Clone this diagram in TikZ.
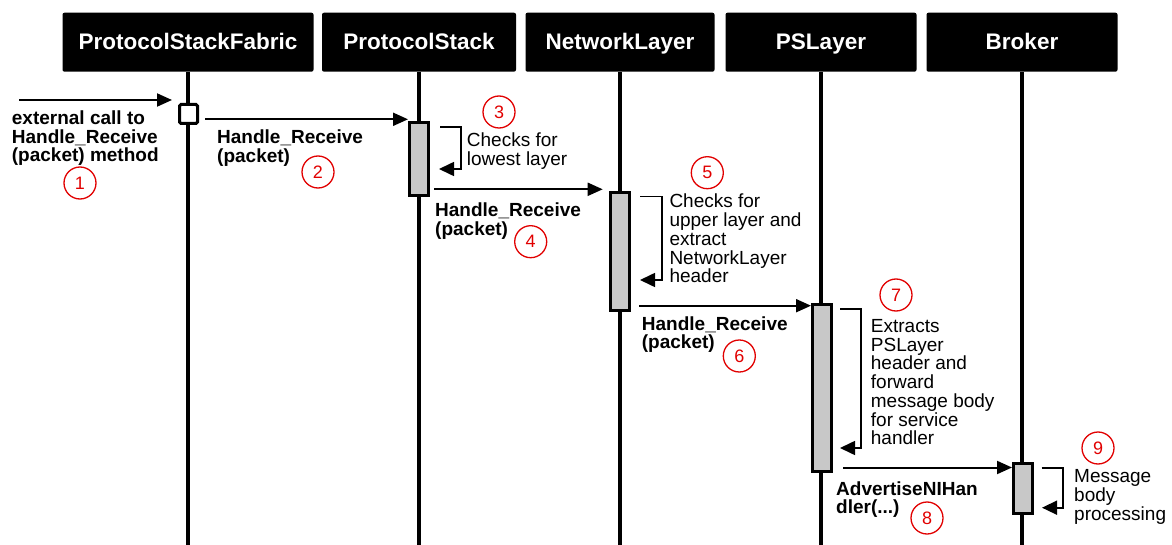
\documentclass[tikz,border=0pt]{standalone}
\usepackage{fontspec}
\setmainfont{Liberation Sans}
\usetikzlibrary{arrows.meta}
\definecolor{barfill}{RGB}{200,200,200}
\definecolor{stepred}{RGB}{225,0,0}

\begin{document}
\begin{tikzpicture}[x=1pt,y=-1pt,
  head/.style={fill=black, rounded corners=2pt, minimum height=59pt, text=white,
    font=\fontsize{22.5}{27}\selectfont\bfseries, inner sep=0pt,
    text height=20pt, text depth=4.8pt},
  life/.style={line width=3.5pt},
  bar/.style={draw=black, fill=barfill, line width=3pt, minimum width=19pt, inner sep=0pt},
  msg/.style={line width=2pt, -{Triangle[length=15pt,width=13pt]}},
  selfcall/.style={line width=1.6pt, -{Triangle[length=15pt,width=14pt]}},
  % multi-line texts are placed by the baseline of their last line
  lbl/.style={anchor=base west, inner sep=0pt, align=left,
    font=\fontsize{19}{18.6}\selectfont\bfseries},
  note/.style={anchor=base west, inner sep=0pt, align=left,
    font=\fontsize{19}{18.7}\selectfont},
  stepno/.style={circle, draw=stepred, text=stepred, line width=1.3pt,
    minimum size=32pt, inner sep=0pt, font=\fontsize{18}{18}\selectfont}
]
\useasboundingbox (0,0) rectangle (1172,545);
\coordinate (bottom) at (0,545);

% lifeline heads
\node[head, minimum width=251pt] (hA) at (188,42.2) {ProtocolStackFabric};
\node[head, minimum width=194pt] (hB) at (419,42.2) {ProtocolStack};
\node[head, minimum width=189pt] (hC) at (620,42.2) {NetworkLayer};
\node[head, minimum width=191pt] (hD) at (821,42.2) {PSLayer};
\node[head, minimum width=191pt] (hE) at (1022,42.2) {Broker};

% lifelines
\foreach \h in {hA,hB,hC,hD,hE}
  \draw[life] (\h.south) -- (\h.south |- bottom);

% activation bars
\node[draw=black, fill=white, line width=3pt, minimum width=18pt, minimum height=19pt,
  inner sep=0pt, rounded corners=1.5pt] (sq) at (188.5,114) {};
\node[bar, minimum height=73pt]   (bB) at (419,159) {};
\node[bar, minimum height=118pt]  (bC) at (620.3,251.2) {};
\node[bar, minimum height=167pt]  (bD) at (821.7,388) {};
\node[bar, minimum height=50.3pt] (bE) at (1022.8,488.3) {};

% message end points
\coordinate (m1s) at (19,100);      \coordinate (m1e) at (172,100);
\coordinate (m2s) at (205,119.3);   \coordinate (m2e) at (408,119.3);
\coordinate (m4s) at (434,189.3);   \coordinate (m4e) at (602.7,189.3);
\coordinate (m6s) at (639,305.7);   \coordinate (m6e) at (811,305.7);
\coordinate (m8s) at (843,467.5);   \coordinate (m8e) at (1012,467.5);

\draw[msg] (m1s) -- (m1e);
\draw[msg] (m2s) -- (m2e);
\draw[msg] (m4s) -- (m4e);
\draw[msg] (m6s) -- (m6e);
\draw[msg] (m8s) -- (m8e);

% self calls
\coordinate (s3a) at (440,127.3);   \coordinate (s3b) at (439,169);
\coordinate (s5a) at (640,196.7);   \coordinate (s5b) at (640,280);
\coordinate (s7a) at (840,309);     \coordinate (s7b) at (840,448);
\coordinate (s9a) at (1041.7,467.7);\coordinate (s9b) at (1042,507.7);

\draw[selfcall] (s3a) -- ++(21,0) |- (s3b);
\draw[selfcall] (s5a) -- ++(21.7,0) |- (s5b);
\draw[selfcall] (s7a) -- ++(20.7,0) |- (s7b);
\draw[selfcall] (s9a) -- ++(21,0) |- (s9b);

% message labels
\node[lbl] (t1) at (11.7,161.7) {external call to\\Handle\_Receive\\(packet) method};
\node[lbl] (t2) at (217,162.1) {Handle\_Receive\\(packet)};
\node[lbl] (t4) at (435,235.1) {Handle\_Receive\\(packet)};
\node[lbl] (t6) at (641.7,348.6) {Handle\_Receive\\(packet)};
\node[lbl] (t8) at (836,513.6) {AdvertiseNIHan\\dler(...)};

% notes
\node[note] (n3) at (466.7,165.2) {Checks for\\lowest layer};
\node[note] (n5) at (669.3,282.8) {Checks for\\upper layer and\\extract\\NetworkLayer\\header};
\node[note] (n7) at (870.7,444.7) {Extracts\\PSLayer\\header and\\forward\\message body\\for service\\handler};
\node[note] (n9) at (1074,520.2) {Message\\body\\processing};

% step numbers
\node[stepno] (c1) at (80,183) {1};
\node[stepno] (c2) at (318,172) {2};
\node[stepno] (c3) at (499,112) {3};
\node[stepno] (c4) at (530.7,241.7) {4};
\node[stepno] (c5) at (707.3,172.7) {5};
\node[stepno] (c6) at (739.3,356) {6};
\node[stepno] (c7) at (896,295) {7};
\node[stepno] (c8) at (927,518) {8};
\node[stepno] (c9) at (1098,448) {9};
\end{tikzpicture}
\end{document}
